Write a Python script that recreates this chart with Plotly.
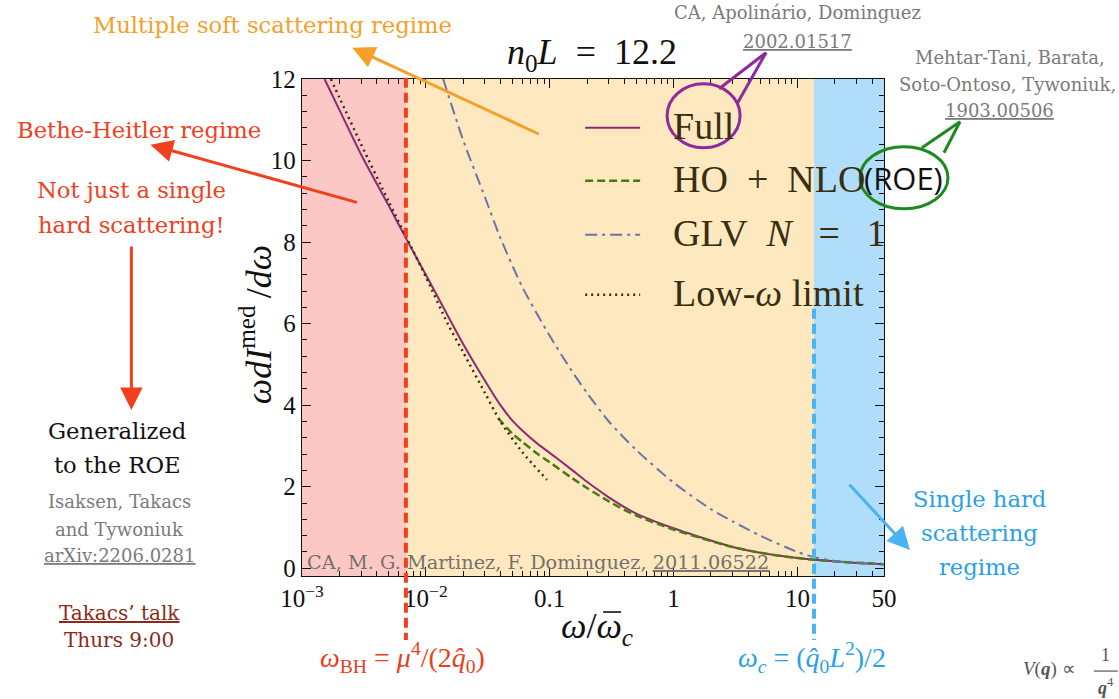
import plotly.graph_objects as go

# ---------------- data ----------------
omega_bh = 0.0069      # Bethe-Heitler frequency (in units of omega_c bar)
omega_c = 13.6         # characteristic frequency

full_x = [0.00152, 0.002, 0.003, 0.005, 0.007, 0.01, 0.015, 0.02, 0.03, 0.04, 0.05, 0.06, 0.08,
          0.1, 0.15, 0.2, 0.3, 0.5, 1, 2, 3, 5, 10, 13.6, 20, 30, 50]
full_y = [12.0, 11.25, 10.15, 8.9, 8.06, 7.2, 6.2, 5.5, 4.6, 4.0, 3.62, 3.38, 3.05,
          2.83, 2.42, 2.12, 1.74, 1.34, 0.98, 0.68, 0.52, 0.38, 0.25, 0.21, 0.17, 0.13, 0.10]

honlo_x = [0.0384, 0.05, 0.06, 0.08, 0.1, 0.15, 0.2, 0.3, 0.5, 1, 2, 3, 5, 10, 20, 50]
honlo_y = [3.68, 3.3, 3.1, 2.8, 2.6, 2.22, 1.97, 1.64, 1.29, 0.95, 0.67, 0.52, 0.38, 0.25, 0.17, 0.10]

glv_x = [0.0138, 0.02, 0.03, 0.04, 0.06, 0.1, 0.15, 0.2, 0.3, 0.5, 1, 2, 3, 5, 10, 13.6, 20, 30, 50]
glv_y = [12.0, 10.5, 9.1, 8.1, 6.9, 5.7, 4.85, 4.3, 3.6, 2.9, 2.1, 1.45, 1.15, 0.8, 0.4, 0.27, 0.18, 0.13, 0.10]

low_x = [0.00171, 0.002, 0.003, 0.005, 0.007, 0.01, 0.015, 0.02, 0.03, 0.04, 0.06, 0.095]
low_y = [12.0, 11.55, 10.4, 9.0, 8.1, 7.15, 6.0, 5.3, 4.3, 3.6, 2.85, 2.17]

legend_names = ["Full", "HO\u2002+\u2002NLO",
                "GLV\u2002<i>N</i>\u2002\u2009=\u2002\u20091", "Low-<i>ω</i> limit"]
xtick_vals = [1e-3, 1e-2, 0.1, 1, 10, 50]
xtick_text = ["10<sup>−3</sup>", "10<sup>−2</sup>", "0.1", "1", "10", "50"]
ytick_vals = [0, 2, 4, 6, 8, 10, 12]

# ---------------- styling ----------------
C_FULL = "#8c2a72"
C_HO = "#4a7a12"
C_GLV = "#6a74a8"
C_LOW = "#3a2e10"
CM = "Liberation Serif"
SLIDE = "DejaVu Serif"

W, H = 1119, 699
L, R, T, B = 301.7, 884.0, 79.3, 576.0


def px(x):
    return (x - L) / (R - L)


def py(y):
    return (B - y) / (B - T)


fig = go.Figure()

fig.add_trace(go.Scatter(x=full_x, y=full_y, mode="lines", name=legend_names[0],
                         line=dict(color=C_FULL, width=2, shape="spline", smoothing=0.7)))
fig.add_trace(go.Scatter(x=honlo_x, y=honlo_y, mode="lines", name=legend_names[1],
                         line=dict(color=C_HO, width=2.5, dash="8px,4px", shape="spline", smoothing=0.7)))
fig.add_trace(go.Scatter(x=glv_x, y=glv_y, mode="lines", name=legend_names[2],
                         line=dict(color=C_GLV, width=2, dash="12px,5px,3px,5px", shape="spline", smoothing=0.7)))
fig.add_trace(go.Scatter(x=low_x, y=low_y, mode="lines", name=legend_names[3],
                         line=dict(color=C_LOW, width=2.5, dash="2px,4px", shape="spline", smoothing=0.7)))

shapes = []
# regime bands
shapes.append(dict(type="rect", xref="x", yref="paper", x0=1e-3, x1=omega_bh, y0=0, y1=1,
                   fillcolor="#fcc8c5", line=dict(width=0), layer="below"))
shapes.append(dict(type="rect", xref="x", yref="paper", x0=omega_bh, x1=omega_c, y0=0, y1=1,
                   fillcolor="#fde8bf", line=dict(width=0), layer="below"))
shapes.append(dict(type="rect", xref="x", yref="paper", x0=omega_c, x1=50, y0=0, y1=1,
                   fillcolor="#b0defa", line=dict(width=0), layer="below"))
# scale markers
shapes.append(dict(type="line", xref="x", yref="paper", x0=omega_bh, x1=omega_bh,
                   y0=py(78), y1=py(640), line=dict(color="#f04020", width=4, dash="10px,5px")))
shapes.append(dict(type="line", xref="x", yref="paper", x0=omega_c, x1=omega_c,
                   y0=py(309), y1=py(640), line=dict(color="#4ab4f0", width=4, dash="10px,5px")))

# legend keys
leg_rows = [128, 181, 235, 295]
leg_styles = [(C_FULL, 2, "solid"), (C_HO, 2.5, "8px,4px"),
              (C_GLV, 2, "12px,5px,3px,5px"), (C_LOW, 2.5, "2px,4px")]
for yy, (c, w, d) in zip(leg_rows, leg_styles):
    shapes.append(dict(type="line", xref="paper", yref="paper", x0=px(585), x1=px(640),
                       y0=py(yy), y1=py(yy), line=dict(color=c, width=w, dash=d)))

# callout bubbles
shapes.append(dict(type="circle", xref="paper", yref="paper", x0=px(667), x1=px(740),
                   y0=py(148), y1=py(84), line=dict(color="#8e2a9e", width=3)))
shapes.append(dict(type="path", xref="paper", yref="paper",
                   path=f"M {px(719)},{py(89)} L {px(766)},{py(53)} L {px(737)},{py(104)}",
                   line=dict(color="#8e2a9e", width=3)))
shapes.append(dict(type="circle", xref="paper", yref="paper", x0=px(860), x1=px(948),
                   y0=py(209), y1=py(147), line=dict(color="#1e8a1e", width=3)))
shapes.append(dict(type="path", xref="paper", yref="paper",
                   path=f"M {px(922)},{py(148)} L {px(960)},{py(122)} L {px(944)},{py(153)}",
                   line=dict(color="#1e8a1e", width=3)))
# fraction bar of V(q)
shapes.append(dict(type="line", xref="paper", yref="paper", x0=px(1094), x1=px(1118),
                   y0=py(671), y1=py(671), line=dict(color="#555555", width=1.2)))
# bar over omega in the x-axis title
shapes.append(dict(type="line", xref="paper", yref="paper", x0=px(603), x1=px(621),
                   y0=py(612), y1=py(612), line=dict(color="#111111", width=1.6)))

ann = []


def text(x, y, s, size, color, family=SLIDE, xanchor="center", angle=0):
    ann.append(dict(x=px(x), y=py(y), xref="paper", yref="paper", text=s, showarrow=False,
                    xanchor=xanchor, yanchor="middle", textangle=angle,
                    font=dict(size=size, color=color, family=family)))


def arrow(x0, y0, x1, y1, color, width=3):
    ann.append(dict(x=px(x1), y=py(y1), xref="paper", yref="paper", ax=x0 - x1, ay=y0 - y1,
                    text="", showarrow=True, arrowhead=2, arrowsize=1.5, arrowwidth=width,
                    arrowcolor=color, standoff=0, startstandoff=0))


UL = "<span style='text-decoration:underline'>{}</span>"
S = 22.7   # slide text size
G = 18     # reference text size

# plot texts
text(592, 55, "<i>n</i><sub>0</sub><i>L</i>\u2002=\u200212.2", 36, "#111111", CM)
text(256, 325, "<i>ωdI</i><sup>med</sup>\u2009/<i>dω</i>", 36, "#111111", CM, angle=-90)
text(597, 628, "<i>ω</i>/<i>ω</i><sub><i>c</i></sub>", 36, "#111111", CM)
for yy, name in zip(leg_rows, legend_names):
    text(671, yy - 2, name, 38, "#3a2e10", CM, xanchor="left")
text(904, 178, "(ROE)", 31, "#111111", "Open Sans")
text(305, 563, "CA, M. G. Martinez, F. Dominguez, " + UL.format("2011.06522"), 19.3,
     "#77706a", SLIDE, xanchor="left")

# regime annotations
text(272, 25, "Multiple soft scattering regime", S, "#f5a02a")
arrow(540, 135, 352, 48, "#f5a02a")
text(139, 130, "Bethe-Heitler regime", S, "#f0401e")
arrow(358, 203, 150, 145, "#f0401e")
text(131, 190, "Not just a single", S, "#f0401e")
text(131, 225, "hard scattering!", S, "#f0401e")
arrow(131, 245, 131, 410, "#f0401e")
text(117, 431, "Generalized", S, "#111111")
text(117, 465, "to the ROE", S, "#111111")
text(119, 502, "Isaksen, Takacs", G, "#7a7a7a")
text(119, 530, "and Tywoniuk", G, "#7a7a7a")
text(119, 556, UL.format("arXiv:2206.0281"), G, "#7a7a7a")
text(119, 613, UL.format("Takacs’ talk"), 20, "#8b2a1a")
text(119, 640, "Thurs 9:00", 20, "#8b2a1a")
text(797, 13, "CA, Apolinário, Dominguez", G, "#7a7a7a")
text(797, 42, UL.format("2002.01517"), G, "#7a7a7a")
text(1010, 58, "Mehtar-Tani, Barata,", G, "#7a7a7a")
text(1008, 85, "Soto-Ontoso, Tywoniuk,", G, "#7a7a7a")
text(1000, 111, UL.format("1903.00506"), G, "#7a7a7a")
arrow(848, 483, 910, 550, "#4ab4f0")
text(980, 499, "Single hard", S, "#2aa0e8")
text(980, 533, "scattering", S, "#2aa0e8")
text(980, 567, "regime", S, "#2aa0e8")
text(402, 657, "<i>ω</i><sub>BH</sub> = <i>μ</i><sup>4</sup>/(2<i>q̂</i><sub>0</sub>)", 28, "#e8401c", CM)
text(812, 657, "<i>ω<sub>c</sub></i> = (<i>q̂</i><sub>0</sub><i>L</i><sup>2</sup>)/2", 28, "#2aa0e8", CM)
text(1050, 669, "<i>V</i>(<b><i>q</i></b>) ∝", 19, "#555555", CM)
text(1106, 655, "1", 18, "#555555", CM)
text(1106, 686, "<b><i>q</i></b><sup>4</sup>", 18, "#555555", CM)

axis_common = dict(showline=True, linecolor="#111111", linewidth=1.3, mirror="allticks",
                   ticks="inside", tickcolor="#111111", showgrid=False, zeroline=False,
                   tickfont=dict(family=CM, size=25, color="#111111"))

fig.update_layout(
    width=W, height=H,
    margin=dict(l=302, r=W - 884, t=79, b=H - 576),
    paper_bgcolor="white", plot_bgcolor="white",
    showlegend=False,
    shapes=shapes, annotations=ann,
    xaxis=dict(type="log", range=[-3, 1.69897], tickvals=xtick_vals, ticktext=xtick_text,
               ticklen=9, tickwidth=1.2,
               minor=dict(ticks="inside", ticklen=5, dtick="D1", tickcolor="#111111", showgrid=False),
               **axis_common),
    yaxis=dict(range=[-0.19, 12], tickvals=ytick_vals, ticklen=9, tickwidth=1.2,
               minor=dict(ticks="inside", ticklen=5, dtick=0.4, tick0=0, tickcolor="#111111", showgrid=False),
               **axis_common),
)

fig.write_html("out.html")
